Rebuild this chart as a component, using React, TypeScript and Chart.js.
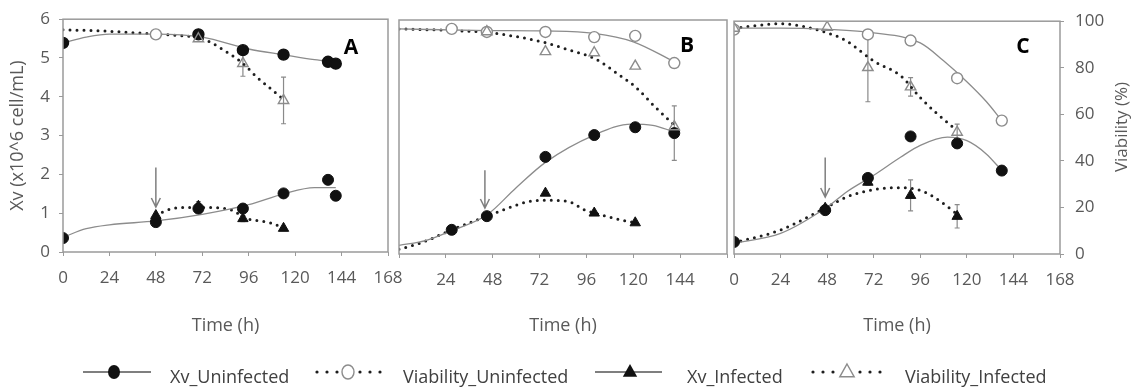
import React, { useEffect, useRef } from 'react';
import { Chart, registerables } from 'chart.js';
Chart.register(...registerables);

const W = 1131;
const H = 388;
const FONT = "'Open Sans', 'DejaVu Sans', sans-serif";

// ---- axis ticks & texts ----
const X_TICKS = [0, 24, 48, 72, 96, 120, 144, 168];
const XV_TICKS = [0, 1, 2, 3, 4, 5, 6];
const VIA_TICKS = [0, 20, 40, 60, 80, 100];
const PANEL_LABELS = ['A', 'B', 'C'];
const SERIES_NAMES = ['Xv_Uninfected', 'Viability_Uninfected', 'Xv_Infected', 'Viability_Infected'];
const X_TITLE = 'Time (h)';
const XV_TITLE = 'Xv (x10^6 cell/mL)';
const VIA_TITLE = 'Viability (%)';

// ---- Panel A ----
const A_XV_UN_T = [0, 48, 70, 93, 114, 137, 141];
const A_XV_UN = [0.36, 0.77, 1.12, 1.12, 1.51, 1.86, 1.45];
const A_XV_UN_FIT_T = [0, 12, 24, 48, 72, 96, 114, 130, 141];
const A_XV_UN_FIT = [0.38, 0.6, 0.7, 0.8, 0.97, 1.22, 1.5, 1.66, 1.66];
const A_XV_INF_T = [48, 70, 93, 114];
const A_XV_INF = [0.94, 1.18, 0.86, 0.61];
const A_XV_INF_ERR = [0, 0.12, 0.08, 0];
const A_XV_INF_FIT_T = [48, 59, 72, 88, 93, 108, 114];
const A_XV_INF_FIT = [0.96, 1.14, 1.15, 1.07, 0.9, 0.74, 0.61];
const A_VIA_UN_T = [0, 48, 70, 93, 114, 137, 141];
const A_VIA_UN = [89.8, 93.5, 93.5, 86.7, 84.8, 81.7, 80.9];
const A_VIA_UN_FIT_T = [0, 12, 24, 48, 72, 96, 114, 130, 141];
const A_VIA_UN_FIT = [89.8, 92.3, 93.6, 93.6, 92.3, 87.2, 84.7, 82.6, 81.7];
const A_VIA_INF_T = [70, 93, 114];
const A_VIA_INF = [91.6, 81.0, 65.1];
const A_VIA_INF_ERR = [0, 5.5, 10];
const A_VIA_INF_FIT_T = [0, 24, 48, 60, 72, 86, 93, 100, 107, 114];
const A_VIA_INF_FIT = [95.5, 94.8, 93.6, 93, 91.6, 85.2, 81, 75.3, 70.4, 65.5];

// ---- Panel B ----
const B_XV_UN_T = [27, 45, 75, 100, 121, 141];
const B_XV_UN = [0.62, 0.97, 2.49, 3.05, 3.25, 3.1];
const B_XV_UN_ERR = [0, 0, 0, 0, 0, 0.7];
const B_XV_UN_FIT_T = [0, 14, 27, 45, 60, 75, 100, 119, 130, 141];
const B_XV_UN_FIT = [0.22, 0.35, 0.6, 1.0, 1.7, 2.35, 3.05, 3.33, 3.3, 3.13];
const B_XV_INF_T = [75, 100, 121];
const B_XV_INF = [1.56, 1.05, 0.8];
const B_XV_INF_FIT_T = [0, 11, 27, 45, 56, 66, 75, 87, 95, 100, 114, 121];
const B_XV_INF_FIT = [0.12, 0.28, 0.62, 0.97, 1.18, 1.34, 1.38, 1.34, 1.13, 1.05, 0.87, 0.8];
const B_VIA_UN_T = [27, 45, 75, 100, 121, 141];
const B_VIA_UN = [96.2, 94.9, 94.9, 92.7, 93.2, 81.6];
const B_VIA_UN_FIT_T = [0, 45, 75, 100, 120, 141];
const B_VIA_UN_FIT = [96.2, 95.5, 95.3, 94.3, 90.7, 82.2];
const B_VIA_INF_T = [45, 75, 100, 121, 141];
const B_VIA_INF = [95, 86.5, 86.0, 80.3, 54.4];
const B_VIA_INF_FIT_T = [0, 24, 45, 60, 75, 87, 100, 114, 121, 131, 141];
const B_VIA_INF_FIT = [96.2, 95.6, 94.7, 92.9, 90.3, 87.2, 83.6, 75.8, 71.5, 63, 55.1];

// ---- Panel C ----
const C_XV_UN_T = [0, 47, 69, 91, 115, 138];
const C_XV_UN = [0.31, 1.13, 1.96, 3.03, 2.85, 2.15];
const C_XV_UN_FIT_T = [0, 24, 48, 58, 72, 86, 96, 110, 120, 130, 138];
const C_XV_UN_FIT = [0.28, 0.53, 1.21, 1.6, 2.03, 2.5, 2.8, 3.01, 2.92, 2.58, 2.15];
const C_XV_INF_T = [47, 69, 91, 115];
const C_XV_INF = [1.18, 1.85, 1.51, 0.97];
const C_XV_INF_ERR = [0, 0.08, 0.4, 0.3];
const C_XV_INF_FIT_T = [0, 24, 48, 58, 72, 84, 96, 103, 115];
const C_XV_INF_FIT = [0.29, 0.62, 1.21, 1.47, 1.66, 1.71, 1.64, 1.47, 1.03];
const C_VIA_UN_T = [0, 69, 91, 115, 138];
const C_VIA_UN = [96.4, 94.3, 91.7, 75.5, 57.3];
const C_VIA_UN_FIT_T = [0, 24, 48, 72, 96, 108, 120, 130, 138];
const C_VIA_UN_FIT = [97, 97, 96.5, 95, 90.7, 83, 74, 65.5, 57.3];
const C_VIA_INF_T = [0, 48, 69, 91, 115];
const C_VIA_INF = [97, 97.4, 80.1, 71.8, 52.3];
const C_VIA_INF_ERR = [0, 0, 14.7, 4, 3.5];
const C_VIA_INF_FIT_T = [0, 24, 48, 58, 72, 86, 96, 103, 115];
const C_VIA_INF_FIT = [97, 98.9, 95, 91.5, 82.9, 76.5, 67.2, 61.5, 53];

// ---- infection arrows (time, Xv top, Xv tip) ----
const ARROW_T = [48, 44, 47];
const ARROW_TOP = [2.18, 2.15, 2.49];
const ARROW_TIP = [1.16, 1.18, 1.47];

type S = { t: number[]; v: number[]; err?: number[] };
const PANELS: { xvUn: S; xvUnFit: S; xvInf: S; xvInfFit: S; viaUn: S; viaUnFit: S; viaInf: S; viaInfFit: S }[] = [
  {
    xvUn: { t: A_XV_UN_T, v: A_XV_UN }, xvUnFit: { t: A_XV_UN_FIT_T, v: A_XV_UN_FIT },
    xvInf: { t: A_XV_INF_T, v: A_XV_INF, err: A_XV_INF_ERR }, xvInfFit: { t: A_XV_INF_FIT_T, v: A_XV_INF_FIT },
    viaUn: { t: A_VIA_UN_T, v: A_VIA_UN }, viaUnFit: { t: A_VIA_UN_FIT_T, v: A_VIA_UN_FIT },
    viaInf: { t: A_VIA_INF_T, v: A_VIA_INF, err: A_VIA_INF_ERR }, viaInfFit: { t: A_VIA_INF_FIT_T, v: A_VIA_INF_FIT },
  },
  {
    xvUn: { t: B_XV_UN_T, v: B_XV_UN, err: B_XV_UN_ERR }, xvUnFit: { t: B_XV_UN_FIT_T, v: B_XV_UN_FIT },
    xvInf: { t: B_XV_INF_T, v: B_XV_INF }, xvInfFit: { t: B_XV_INF_FIT_T, v: B_XV_INF_FIT },
    viaUn: { t: B_VIA_UN_T, v: B_VIA_UN }, viaUnFit: { t: B_VIA_UN_FIT_T, v: B_VIA_UN_FIT },
    viaInf: { t: B_VIA_INF_T, v: B_VIA_INF }, viaInfFit: { t: B_VIA_INF_FIT_T, v: B_VIA_INF_FIT },
  },
  {
    xvUn: { t: C_XV_UN_T, v: C_XV_UN }, xvUnFit: { t: C_XV_UN_FIT_T, v: C_XV_UN_FIT },
    xvInf: { t: C_XV_INF_T, v: C_XV_INF, err: C_XV_INF_ERR }, xvInfFit: { t: C_XV_INF_FIT_T, v: C_XV_INF_FIT },
    viaUn: { t: C_VIA_UN_T, v: C_VIA_UN }, viaUnFit: { t: C_VIA_UN_FIT_T, v: C_VIA_UN_FIT },
    viaInf: { t: C_VIA_INF_T, v: C_VIA_INF, err: C_VIA_INF_ERR }, viaInfFit: { t: C_VIA_INF_FIT_T, v: C_VIA_INF_FIT },
  },
];

// ---- layout (positions, not data) ----
const LAYOUT = [
  { pad: { left: 0, top: 17, right: 743, bottom: 48 }, xH: 88, letter: { x: 351, y: 48 } },
  { pad: { left: 399, top: 20, right: 404, bottom: 48 }, xH: 86, letter: { x: 687, y: 46 } },
  { pad: { left: 734, top: 20, right: 0, bottom: 48 }, xH: 86, letter: { x: 1023, y: 47 } },
];

const GRAY_LINE = '#8c8c8c';
const DOT = '#1e1e1e';
const TEXT = '#595959';
const FRAME = '#9a9a9a';

const pts = (s: S) => s.t.map((x, i) => ({ x, y: s.v[i] }));

function buildConfig(idx: number): any {
  const p = PANELS[idx];
  const L = LAYOUT[idx];
  const solid = { type: 'line', showLine: true, pointRadius: 0, borderColor: GRAY_LINE, borderWidth: 1.3, cubicInterpolationMode: 'monotone', fill: false, order: 2 };
  const dotted = { type: 'line', showLine: true, pointRadius: 0, borderColor: DOT, borderWidth: 3, borderDash: [0, 7], borderCapStyle: 'round', cubicInterpolationMode: 'monotone', fill: false, order: 2 };
  const mark = { showLine: false, order: 0 };
  const datasets: any[] = [
    { ...solid, label: 'fit1', data: pts(p.xvUnFit), yAxisID: 'y' },
    { ...dotted, label: 'fit2', data: pts(p.xvInfFit), yAxisID: 'y' },
    { ...solid, label: 'fit3', data: pts(p.viaUnFit), yAxisID: 'y2' },
    { ...dotted, label: 'fit4', data: pts(p.viaInfFit), yAxisID: 'y2' },
    {
      ...mark, label: SERIES_NAMES[3], data: pts(p.viaInf), yAxisID: 'y2', pointStyle: 'triangle', pointRadius: 6,
      pointBackgroundColor: 'rgba(255,255,255,0)', pointBorderColor: GRAY_LINE, pointBorderWidth: 1.4,
    },
    {
      ...mark, label: SERIES_NAMES[1], data: pts(p.viaUn), yAxisID: 'y2', pointStyle: 'circle', pointRadius: 5.5,
      pointBackgroundColor: idx === 0 ? (c: any) => (c.dataIndex === 1 ? '#ffffff' : '#111111') : '#ffffff',
      pointBorderColor: idx === 0 ? (c: any) => (c.dataIndex === 1 ? GRAY_LINE : '#111111') : GRAY_LINE,
      pointBorderWidth: 1.4,
    },
    {
      ...mark, label: SERIES_NAMES[2], data: pts(p.xvInf), yAxisID: 'y', pointStyle: 'triangle', pointRadius: 6,
      pointBackgroundColor: '#111111', pointBorderColor: '#111111', pointBorderWidth: 1,
    },
    {
      ...mark, label: SERIES_NAMES[0], data: pts(p.xvUn), yAxisID: 'y', pointStyle: 'circle', pointRadius: 5.5,
      pointBackgroundColor: '#111111', pointBorderColor: '#111111', pointBorderWidth: 1,
    },
  ];

  const tickFont = { family: FONT, size: 17 };
  const tickGrid = { drawOnChartArea: false, drawTicks: true, tickLength: 4, color: FRAME };

  const errorBars = {
    id: 'errorBars',
    beforeDatasetsDraw(chart: any) {
      const { ctx } = chart;
      const xs = chart.scales.x;
      const list: [S, string][] = [[p.xvUn, 'y'], [p.xvInf, 'y'], [p.viaUn, 'y2'], [p.viaInf, 'y2']];
      ctx.save();
      ctx.strokeStyle = '#8a8a8a';
      ctx.lineWidth = 1.2;
      list.forEach(([s, ax]) => {
        if (!s.err) return;
        const ys = chart.scales[ax];
        s.t.forEach((t, i) => {
          const e = s.err![i];
          if (!e) return;
          const x = xs.getPixelForValue(t);
          const y1 = ys.getPixelForValue(s.v[i] + e);
          const y2 = ys.getPixelForValue(s.v[i] - e);
          ctx.beginPath();
          ctx.moveTo(x, y1); ctx.lineTo(x, y2);
          ctx.moveTo(x - 2.5, y1); ctx.lineTo(x + 2.5, y1);
          ctx.moveTo(x - 2.5, y2); ctx.lineTo(x + 2.5, y2);
          ctx.stroke();
        });
      });
      ctx.restore();
    },
  };

  const decor = {
    id: 'decor',
    afterDraw(chart: any) {
      const { ctx, chartArea: a } = chart;
      ctx.save();
      // frame
      ctx.strokeStyle = FRAME;
      ctx.lineWidth = 1.5;
      ctx.strokeRect(a.left, a.top, a.right - a.left, a.bottom - a.top);
      // arrow
      const xs = chart.scales.x;
      const ys = chart.scales.y;
      const ax = xs.getPixelForValue(ARROW_T[idx]);
      const top = ys.getPixelForValue(ARROW_TOP[idx]);
      const tip = ys.getPixelForValue(ARROW_TIP[idx]);
      ctx.strokeStyle = '#7f7f7f';
      ctx.lineWidth = 1.5;
      ctx.beginPath();
      ctx.moveTo(ax, top); ctx.lineTo(ax, tip);
      ctx.moveTo(ax - 4.5, tip - 9); ctx.lineTo(ax, tip); ctx.lineTo(ax + 4.5, tip - 9);
      ctx.stroke();
      // panel letter
      ctx.fillStyle = '#000';
      ctx.font = `bold 21px ${FONT}`;
      ctx.textAlign = 'center';
      ctx.textBaseline = 'middle';
      ctx.fillText(PANEL_LABELS[idx], L.letter.x, L.letter.y);

      if (idx === 2) {
        ctx.save();
        ctx.translate(1122, 127);
        ctx.rotate(-Math.PI / 2);
        ctx.fillStyle = TEXT;
        ctx.font = `17px ${FONT}`;
        ctx.fillText(VIA_TITLE, 0, 0);
        ctx.restore();
      }

      if (idx === 0) {
        // legend
        const sy = 372;
        const by = 383;
        const dot = (x: number) => { ctx.beginPath(); ctx.arc(x, sy, 1.6, 0, Math.PI * 2); ctx.fillStyle = DOT; ctx.fill(); };
        const tri = (x: number, r: number) => {
          ctx.beginPath();
          ctx.moveTo(x, sy - r);
          ctx.lineTo(x + r * 0.9, sy + r * 0.6);
          ctx.lineTo(x - r * 0.9, sy + r * 0.6);
          ctx.closePath();
        };
        // 1
        ctx.strokeStyle = '#555';
        ctx.lineWidth = 1.3;
        ctx.beginPath(); ctx.moveTo(83, sy); ctx.lineTo(151, sy); ctx.stroke();
        ctx.beginPath(); ctx.ellipse(114, sy, 6, 7, 0, 0, Math.PI * 2); ctx.fillStyle = '#111'; ctx.fill();
        // 2
        [317, 327, 337, 360, 370, 380].forEach(dot);
        ctx.beginPath(); ctx.ellipse(348, sy, 6, 7, 0, 0, Math.PI * 2);
        ctx.fillStyle = '#fff'; ctx.fill(); ctx.strokeStyle = GRAY_LINE; ctx.lineWidth = 1.4; ctx.stroke();
        // 3
        ctx.strokeStyle = '#555';
        ctx.lineWidth = 1.3;
        ctx.beginPath(); ctx.moveTo(595, sy); ctx.lineTo(662, sy); ctx.stroke();
        tri(630, 8); ctx.fillStyle = '#111'; ctx.fill();
        // 4
        [813, 823, 833, 860, 870, 880].forEach(dot);
        tri(847, 8); ctx.fillStyle = '#fff'; ctx.fill(); ctx.strokeStyle = GRAY_LINE; ctx.lineWidth = 1.4; ctx.stroke();
        // texts
        ctx.fillStyle = '#404040';
        ctx.font = `18px ${FONT}`;
        ctx.textAlign = 'left';
        ctx.textBaseline = 'alphabetic';
        ctx.fillText(SERIES_NAMES[0], 170, by);
        ctx.fillText(SERIES_NAMES[1], 403, by);
        ctx.fillText(SERIES_NAMES[2], 687, by);
        ctx.fillText(SERIES_NAMES[3], 905, by);
      }
      ctx.restore();
    },
  };

  return {
    type: 'scatter',
    data: { datasets },
    plugins: [errorBars, decor],
    options: {
      animation: false,
      responsive: false,
      devicePixelRatio: 1,
      events: [],
      layout: { padding: L.pad },
      plugins: { legend: { display: false }, tooltip: { enabled: false } },
      scales: {
        x: {
          type: 'linear',
          min: 0,
          max: 168,
          afterBuildTicks: (s: any) => { s.ticks = X_TICKS.map((v) => ({ value: v })); },
          afterFit: (s: any) => { s.height = L.xH; },
          grid: tickGrid,
          border: { display: false },
          ticks: {
            color: TEXT, font: tickFont, padding: 12, maxRotation: 0, autoSkip: false,
            callback: (v: any) => (idx === 1 && (v === 0 || v === 168) ? '' : String(v)),
          },
          title: { display: true, text: X_TITLE, color: TEXT, font: { family: FONT, size: 18 }, padding: { top: 0, bottom: 3 } },
        },
        y: {
          type: 'linear',
          position: 'left',
          min: 0,
          max: 6,
          display: idx === 0,
          afterBuildTicks: (s: any) => { s.ticks = XV_TICKS.map((v) => ({ value: v })); },
          afterFit: (s: any) => { s.width = idx === 0 ? 63 : 0; },
          grid: tickGrid,
          border: { display: false },
          ticks: { color: TEXT, font: tickFont, padding: 9 },
          title: { display: true, text: XV_TITLE, color: TEXT, font: { family: FONT, size: 18 }, padding: { top: 7, bottom: 0 } },
        },
        y2: {
          type: 'linear',
          position: 'right',
          min: 0,
          max: 100,
          display: idx === 2,
          afterBuildTicks: (s: any) => { s.ticks = VIA_TICKS.map((v) => ({ value: v })); },
          afterFit: (s: any) => { s.width = idx === 2 ? 71 : 0; },
          grid: tickGrid,
          border: { display: false },
          ticks: { color: TEXT, font: tickFont, padding: 11 },
        },
      },
    },
  };
}

function Panel({ idx }: { idx: number }) {
  const ref = useRef<HTMLCanvasElement>(null);
  useEffect(() => {
    const chart = new Chart(ref.current as HTMLCanvasElement, buildConfig(idx));
    return () => chart.destroy();
  }, [idx]);
  return (
    <canvas
      ref={ref}
      width={W}
      height={H}
      style={{ position: 'absolute', left: 0, top: 0, width: W, height: H }}
    />
  );
}

export default function App() {
  return (
    <div style={{ position: 'fixed', left: 0, top: 0, width: W, height: H, background: '#ffffff', overflow: 'hidden' }}>
      {[0, 1, 2].map((i) => (
        <Panel key={i} idx={i} />
      ))}
    </div>
  );
}
